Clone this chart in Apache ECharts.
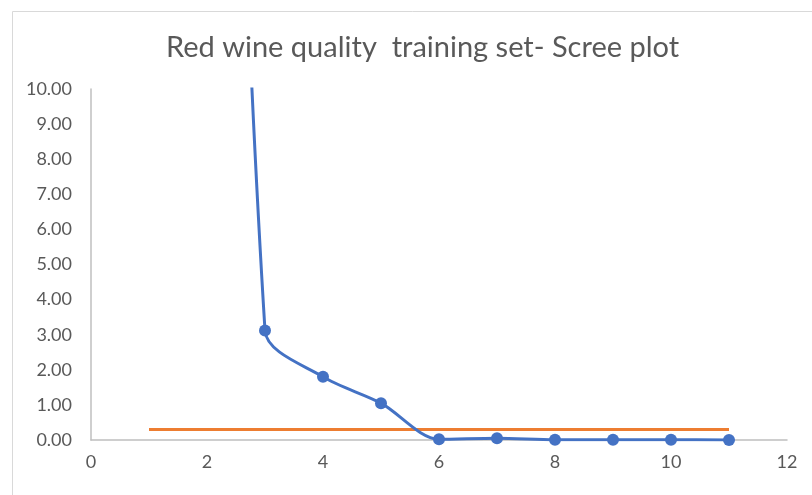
<!DOCTYPE html>
<html>
<head>
<meta charset="utf-8">
<script src="https://cdn.jsdelivr.net/npm/echarts@6/dist/echarts.min.js"></script>
<style>
  html, body { margin: 0; padding: 0; background: #fff; }
  #chart { width: 812px; height: 495px; }
</style>
</head>
<body>
<div id="chart"></div>
<script>
var components = [1, 2, 3, 4, 5, 6, 7, 8, 9, 10, 11];
var eigenvalues = [150, 55, 3.12, 1.8, 1.05, 0.02, 0.05, 0.01, 0.01, 0.01, 0.0];
var cutoffX = [1, 11];
var cutoffY = [0.3, 0.3];

var chart = echarts.init(document.getElementById('chart'), null, { renderer: 'canvas' });

var option = {
  animation: false,
  textStyle: { fontFamily: 'Lato' },
  title: {
    text: 'Red wine quality  training set- Scree plot',
    left: 161,
    top: 28,
    textStyle: { fontFamily: 'Lato', fontSize: 29, fontWeight: 'normal', color: '#595959' }
  },
  graphic: [{
    type: 'rect',
    shape: { x: 12.5, y: 11.5, width: 820, height: 500 },
    style: { fill: 'none', stroke: '#d9d9d9', lineWidth: 1 },
    z: -1
  }],
  grid: { left: 91, right: 25, top: 89, bottom: 55 },
  xAxis: {
    type: 'value',
    min: 0, max: 12, interval: 2,
    axisLine: { show: true, lineStyle: { color: '#bfbfbf', width: 1.5 } },
    axisTick: { show: false },
    splitLine: { show: false },
    axisLabel: { color: '#595959', fontSize: 18, margin: 13 }
  },
  yAxis: {
    type: 'value',
    min: 0, max: 10, interval: 1,
    axisLine: { show: true, lineStyle: { color: '#bfbfbf', width: 1.5 } },
    axisTick: { show: false },
    splitLine: { show: false },
    axisLabel: {
      color: '#595959', fontSize: 18, margin: 19,
      formatter: function (v) { return v.toFixed(2); }
    }
  },
  series: [{
    type: 'line',
    data: components.map(function (c, i) { return [c, eigenvalues[i]]; }),
    smooth: 0.3,
    symbol: 'circle',
    symbolSize: 12,
    lineStyle: { color: '#4472c4', width: 3 },
    itemStyle: { color: '#4472c4' },
    clip: true
  }, {
    type: 'line',
    data: cutoffX.map(function (c, i) { return [c, cutoffY[i]]; }),
    symbol: 'none',
    lineStyle: { color: '#ed7d31', width: 3 },
    z: 1
  }]
};

chart.setOption(option);
window.addEventListener('resize', chart.resize);
</script>
</body>
</html>
